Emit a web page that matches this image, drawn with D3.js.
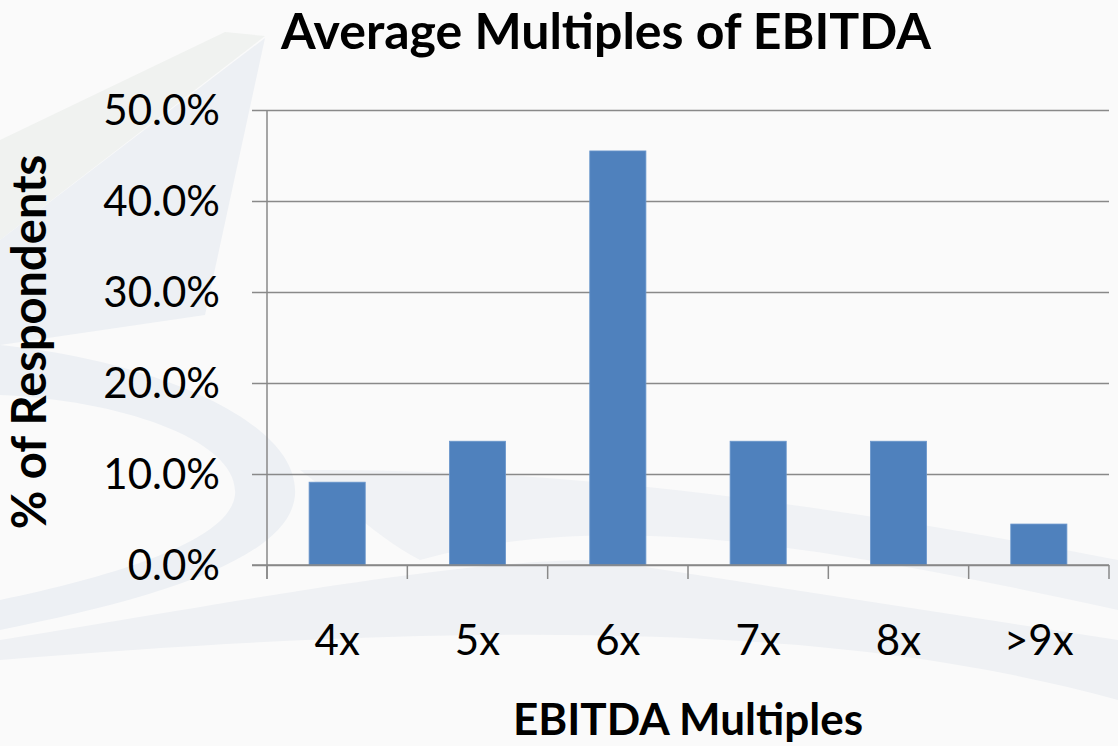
<!DOCTYPE html>
<html>
<head>
<meta charset="utf-8">
<script src="https://cdn.jsdelivr.net/npm/d3@7"></script>
<style>
  html, body { margin: 0; padding: 0; background: #fafafa; }
  svg { display: block; }
  text { font-family: Lato, "Open Sans", sans-serif; fill: #000; }
</style>
</head>
<body>
<svg id="chart"></svg>
<script>
const width = 1118;
const height = 746;

// Data
const categories = ["4x", "5x", "6x", "7x", "8x", ">9x"];
const shares = [0.091, 0.136, 0.455, 0.136, 0.136, 0.045];
const yTicks = [0, 0.1, 0.2, 0.3, 0.4, 0.5];

const titleText = "Average Multiples of EBITDA";
const xTitle = "EBITDA Multiples";
const yTitle = "% of Respondents";

const plot = { left: 267, right: 1109, top: 110, bottom: 565 };

const svg = d3.select("#chart")
    .attr("width", width)
    .attr("height", height);

// faint background swooshes
const bg = svg.append("g").attr("class", "background");
bg.append("rect").attr("width", width).attr("height", height).attr("fill", "#fafafa");
bg.append("path")
    .attr("d", "M225,32 L265,36 L0,240 L0,140 Z")
    .attr("fill", "#f0f2f0");
bg.append("path")
    .attr("d", "M265,38 L205,315 L0,345 L0,240 Z")
    .attr("fill", "#edf0f4");
bg.append("path")
    .attr("d", "M0,345 C150,360 300,420 295,495 C290,560 150,600 0,630 L0,600 C120,575 230,540 235,495 C240,440 120,400 0,395 Z")
    .attr("fill", "#edf0f4");
bg.append("path")
    .attr("d", "M0,640 C250,600 450,560 600,560 L1118,640 L1118,700 C900,640 600,610 0,660 Z")
    .attr("fill", "#eff1f4");
bg.append("path")
    .attr("d", "M300,470 C500,470 700,480 1118,560 L1118,610 C800,540 600,510 420,560 C380,540 340,500 300,470 Z")
    .attr("fill", "#f0f2f5");

const x = d3.scaleBand()
    .domain(categories)
    .range([plot.left, plot.right])
    .paddingInner(0.6)
    .paddingOuter(0.3);

const y = d3.scaleLinear()
    .domain([0, 0.5])
    .range([plot.bottom, plot.top]);

const gridColor = "#898989";

// gridlines with left tick marks
svg.append("g")
    .attr("class", "grid")
    .attr("transform", `translate(${plot.left},0)`)
    .call(d3.axisLeft(y).tickValues(yTicks).tickSize(-(plot.right - plot.left)).tickFormat(""))
    .call(g => g.select(".domain").remove())
    .call(g => g.selectAll("line")
        .attr("x1", -15)
        .attr("stroke", gridColor)
        .attr("stroke-width", 1.5));

// y tick labels
svg.append("g")
    .selectAll("text")
    .data(yTicks)
    .join("text")
    .attr("x", 220)
    .attr("y", d => y(d))
    .attr("dy", "0.35em")
    .attr("text-anchor", "end")
    .style("font-size", "42px")
    .text(d => d3.format(".1%")(d));

// bars
svg.append("g")
    .selectAll("rect")
    .data(categories.map((c, i) => ({ c, v: shares[i] })))
    .join("rect")
    .attr("x", d => x(d.c))
    .attr("y", d => y(d.v))
    .attr("width", x.bandwidth())
    .attr("height", d => y(0) - y(d.v))
    .attr("fill", "#4f81bd")
    .attr("stroke", "#6a96cc")
    .attr("stroke-width", 0.8);

// vertical axis line
svg.append("line")
    .attr("x1", plot.left).attr("x2", plot.left)
    .attr("y1", plot.top).attr("y2", plot.bottom + 14)
    .attr("stroke", gridColor)
    .attr("stroke-width", 1.5);

// category axis: ticks at band edges
const edges = d3.range(categories.length + 1).map(i => plot.left + i * x.step());
svg.append("g")
    .selectAll("line")
    .data(edges)
    .join("line")
    .attr("x1", d => d).attr("x2", d => d)
    .attr("y1", plot.bottom).attr("y2", plot.bottom + 14)
    .attr("stroke", gridColor)
    .attr("stroke-width", 1.5);
svg.append("line")
    .attr("x1", plot.left - 15).attr("x2", plot.right)
    .attr("y1", plot.bottom).attr("y2", plot.bottom)
    .attr("stroke", gridColor)
    .attr("stroke-width", 1.5);

svg.append("g")
    .selectAll("text")
    .data(categories)
    .join("text")
    .attr("x", d => x(d) + x.bandwidth() / 2)
    .attr("y", 655)
    .attr("text-anchor", "middle")
    .style("font-size", "42px")
    .text(d => d);

// titles
svg.append("text")
    .attr("x", 606)
    .attr("y", 49)
    .attr("text-anchor", "middle")
    .style("font-size", "50px")
    .style("font-weight", "bold")
    .text(titleText);

svg.append("text")
    .attr("x", 688)
    .attr("y", 735)
    .attr("text-anchor", "middle")
    .style("font-size", "44px")
    .style("font-weight", "bold")
    .text(xTitle);

svg.append("text")
    .attr("transform", "translate(46,342) rotate(-90)")
    .attr("text-anchor", "middle")
    .style("font-size", "47px")
    .style("font-weight", "bold")
    .text(yTitle);
</script>
</body>
</html>
